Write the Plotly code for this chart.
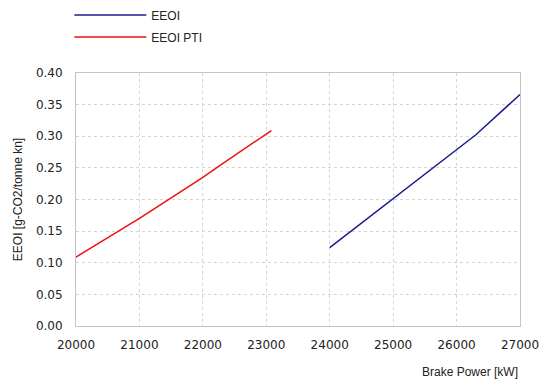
import plotly.graph_objects as go

eeoi_power = [24000, 25000, 26300, 27000]
eeoi_values = [0.124, 0.202, 0.302, 0.366]

pti_power = [20000, 21000, 22000, 22300, 23080]
pti_values = [0.109, 0.170, 0.235, 0.256, 0.309]

x_ticks = [20000, 21000, 22000, 23000, 24000, 25000, 26000, 27000]
y_ticks = [0.00, 0.05, 0.10, 0.15, 0.20, 0.25, 0.30, 0.35, 0.40]

fig = go.Figure()
fig.add_trace(go.Scatter(x=eeoi_power, y=eeoi_values, mode="lines", name="EEOI",
                         legendgroup="a",
                         line=dict(color="#1c1c8f", width=1.5)))
fig.add_trace(go.Scatter(x=pti_power, y=pti_values, mode="lines", name="EEOI PTI",
                         legendgroup="b",
                         line=dict(color="#f01010", width=1.5)))

tickfont = dict(family="DejaVu Sans", size=12, color="#222")
fig.update_layout(
    width=550, height=383,
    margin=dict(l=76, r=30, t=73, b=57, autoexpand=False),
    paper_bgcolor="white", plot_bgcolor="white",
    font=dict(family="Liberation Sans", size=12, color="#222"),
    legend=dict(x=-0.015, y=1.287,
                xanchor="left", yanchor="top",
                font=dict(family="Liberation Sans", size=12, color="#222"),
                itemwidth=72, tracegroupgap=3, bgcolor="rgba(0,0,0,0)"),
    xaxis=dict(range=[20000, 27000], tickvals=x_ticks,
               ticktext=[str(v) for v in x_ticks], tickangle=0,
               showgrid=True, gridcolor="#d6d6d6", griddash="dot", gridwidth=1,
               showline=True, linecolor="#c4c4c4", linewidth=1, mirror=True,
               zeroline=False, ticks="", ticklabelstandoff=8, tickfont=tickfont),
    yaxis=dict(range=[0, 0.40], tickvals=y_ticks,
               ticktext=["%.2f" % v for v in y_ticks],
               showgrid=True, gridcolor="#d6d6d6", griddash="dot", gridwidth=1,
               showline=True, linecolor="#c4c4c4", linewidth=1, mirror=True,
               zeroline=False, ticks="", ticklabelstandoff=10, tickfont=tickfont,
               title=dict(text="EEOI [g-CO2/tonne kn]", standoff=10,
                          font=dict(family="Liberation Sans", size=12, color="#222"))),
    annotations=[dict(text="Brake Power [kW]", xref="paper", yref="paper",
                      x=1.0, y=-0.147, xanchor="right", yanchor="top",
                      showarrow=False,
                      font=dict(family="Liberation Sans", size=12, color="#222"))],
)

fig.write_html("out.html", config={"displayModeBar": False},
               post_script="document.body.style.margin='0px';")
